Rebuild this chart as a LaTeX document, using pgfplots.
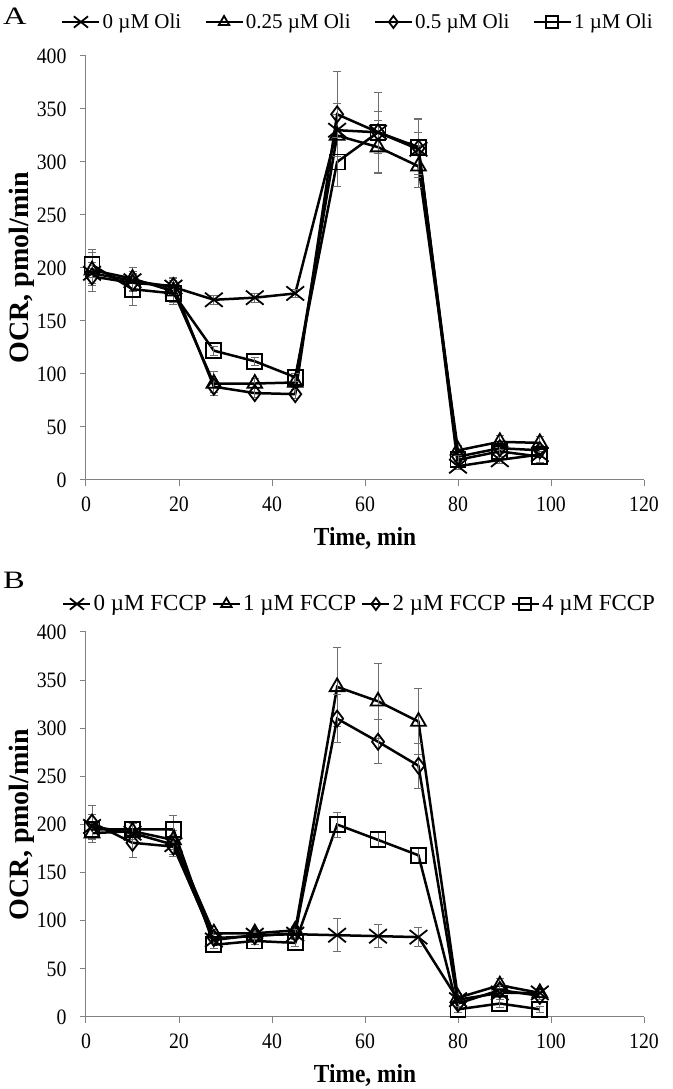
\documentclass[border=0pt]{standalone}
\usepackage{fontspec}
\setmainfont{Liberation Serif}
\newfontfamily\narrow{Liberation Serif}[FakeStretch=0.9]
\newfontfamily\wide{Liberation Serif}[FakeStretch=1.3]
\usepackage{pgfplots}
\pgfplotsset{compat=1.18}
\definecolor{axgray}{RGB}{130,130,130}
\definecolor{errgray}{RGB}{110,110,110}
\pgfplotsset{
  common/.style={
    scale only axis, width=558pt,
    xmin=0, xmax=120, ymin=0, ymax=400,
    xtick={0,20,...,120}, ytick={0,50,...,400},
    axis lines=left,
    axis line style={-, draw=axgray, line width=1pt},
    tick align=outside, major tick length=6pt,
    tick style={axgray, line width=1pt},
    /pgf/number format/assume math mode=true,
    ticklabel style={font=\narrow\fontsize{22}{26}\selectfont},
    xticklabel style={yshift=-7pt},
    yticklabel style={xshift=-10pt},
    xlabel={Time, min}, ylabel={OCR, pmol/min},
    xlabel style={font=\narrow\bfseries\fontsize{26}{30}\selectfont, yshift=-9pt},
    ylabel style={font=\bfseries\fontsize{28}{32}\selectfont, yshift=-5pt},
    legend columns=4,
    legend style={draw=none, fill=none, inner sep=0pt,
      nodes={inner sep=2pt},
      at={(0,1)}, anchor=west},
    legend image post style={mark size=6pt},
  },
  legA/.style={
    legend style={font=\fontsize{21}{25}\selectfont, xshift=-25pt, yshift=34pt,
      /tikz/every even column/.append style={column sep=21pt}},
    legend image code/.code={\draw[##1, mark repeat=2, mark phase=2] plot coordinates {(0pt,0pt) (18.5pt,0pt) (37pt,0pt)};},
  },
  legB/.style={
    legend style={font=\fontsize{23}{27}\selectfont, xshift=-24pt, yshift=28pt,
      /tikz/every even column/.append style={column sep=3pt}},
    legend image code/.code={\draw[##1, mark repeat=2, mark phase=2] plot coordinates {(0pt,0pt) (13.5pt,0pt) (27pt,0pt)};},
  },
  ser/.style={
    error bars/y dir=both, error bars/y explicit,
    error bars/error bar style={errgray, line width=0.8pt},
    error bars/error mark options={errgray, line width=0.8pt, rotate=90, mark size=4pt},
    black, line width=2.5pt, mark size=7.5pt,
    mark options={solid, fill=white, line width=1.8pt}},
  serx/.style={ser, mark=x, mark size=10pt,
    mark options={solid, line width=1.8pt, xscale=1.25},
    legend image post style={mark size=8pt}},
}
\begin{document}
\begin{tikzpicture}
\useasboundingbox (0pt,0pt) rectangle (672pt,1089pt);
\node[anchor=base west, font=\wide\fontsize{25}{28}\selectfont, inner sep=0pt] at (3pt,1064pt) {A};
\node[anchor=base west, font=\wide\fontsize{25}{28}\selectfont, inner sep=0pt] at (3pt,500pt) {B};
% Panel A
\begin{axis}[common, legA, height=424pt, at={(86pt,609pt)}, anchor=south west]
\addplot[serx] coordinates {
 (1.3,195) +- (0,10) (10,188) +- (0,9) (18.8,182) +- (0,8) (27.5,170) +- (0,4)
 (36.3,172) +- (0,4) (45,176) +- (0,4) (54,330) +- (0,25) (62.8,328) +- (0,20)
 (71.5,312) +- (0,16) (80,13) +- (0,3) (89,19) +- (0,3) (97.6,24) +- (0,3)};
\addlegendentry{0 µM Oli}
\addplot[ser, mark=triangle, mark size=8.5pt] coordinates {
 (1.3,198) +- (0,20) (10,190) +- (0,11) (18.8,178) +- (0,10) (27.5,91) +- (0,11)
 (36.3,91) +- (0,5) (45,92) +- (0,5) (54,325) +- (0,20) (62.8,314) +- (0,25)
 (71.5,296) +- (0,20) (80,28) +- (0,5) (89,36) +- (0,6) (97.6,35) +- (0,6)};
\addlegendentry{0.25 µM Oli}
\addplot[ser, mark=diamond, mark size=8pt] coordinates {
 (1.3,192) +- (0,8) (10,186) +- (0,8) (18.8,183) +- (0,8) (27.5,88) +- (0,5)
 (36.3,82) +- (0,4) (45,81) +- (0,4) (54,345) +- (0,40) (62.8,328) +- (0,38)
 (71.5,313) +- (0,28) (80,22) +- (0,4) (89,30) +- (0,5) (97.6,28) +- (0,5)};
\addlegendentry{0.5 µM Oli}
\addplot[ser, mark=square] coordinates {
 (1.3,203) +- (0,12) (10,180) +- (0,15) (18.8,176) +- (0,10) (27.5,122) +- (0,4)
 (36.3,112) +- (0,4) (45,97) +- (0,4) (54,300) +- (0,23) (62.8,328) +- (0,20)
 (71.5,314) +- (0,26) (80,19) +- (0,4) (89,27) +- (0,5) (97.6,22) +- (0,5)};
\addlegendentry{1 µM Oli}
\end{axis}
% Panel B
\begin{axis}[common, legB, height=385pt, at={(86pt,72pt)}, anchor=south west]
\addplot[serx] coordinates {
 (1.3,198) +- (0,12) (10,191) +- (0,10) (18.8,179) +- (0,10) (27.5,80) +- (0,4)
 (36.3,85) +- (0,4) (45,86) +- (0,4) (54,85) +- (0,17) (62.8,84) +- (0,12)
 (71.5,83) +- (0,10) (80,18) +- (0,4) (89,25) +- (0,5) (97.6,25) +- (0,4)};
\addlegendentry{0 µM FCCP}
\addplot[ser, mark=triangle, mark size=8.5pt] coordinates {
 (1.3,191) +- (0,10) (10,193) +- (0,8) (18.8,184) +- (0,10) (27.5,87) +- (0,4)
 (36.3,87) +- (0,4) (45,90) +- (0,4) (54,343) +- (0,41) (62.8,328) +- (0,39)
 (71.5,307) +- (0,34) (80,20) +- (0,4) (89,33) +- (0,7) (97.6,25) +- (0,5)};
\addlegendentry{1 µM FCCP}
\addplot[ser, mark=diamond, mark size=8pt] coordinates {
 (1.3,202) +- (0,18) (10,181) +- (0,15) (18.8,177) +- (0,10) (27.5,82) +- (0,4)
 (36.3,84) +- (0,4) (45,87) +- (0,4) (54,310) +- (0,25) (62.8,286) +- (0,23)
 (71.5,261) +- (0,23) (80,14) +- (0,4) (89,28) +- (0,5) (97.6,22) +- (0,4)};
\addlegendentry{2 µM FCCP}
\addplot[ser, mark=square] coordinates {
 (1.3,195) +- (0,8) (10,195) +- (0,8) (18.8,195) +- (0,14) (27.5,75) +- (0,4)
 (36.3,79) +- (0,4) (45,77) +- (0,4) (54,200) +- (0,13) (62.8,184) +- (0,8)
 (71.5,168) +- (0,8) (80,8) +- (0,3) (89,14) +- (0,4) (97.6,8) +- (0,3)};
\addlegendentry{4 µM FCCP}
\end{axis}
\end{tikzpicture}
\end{document}
